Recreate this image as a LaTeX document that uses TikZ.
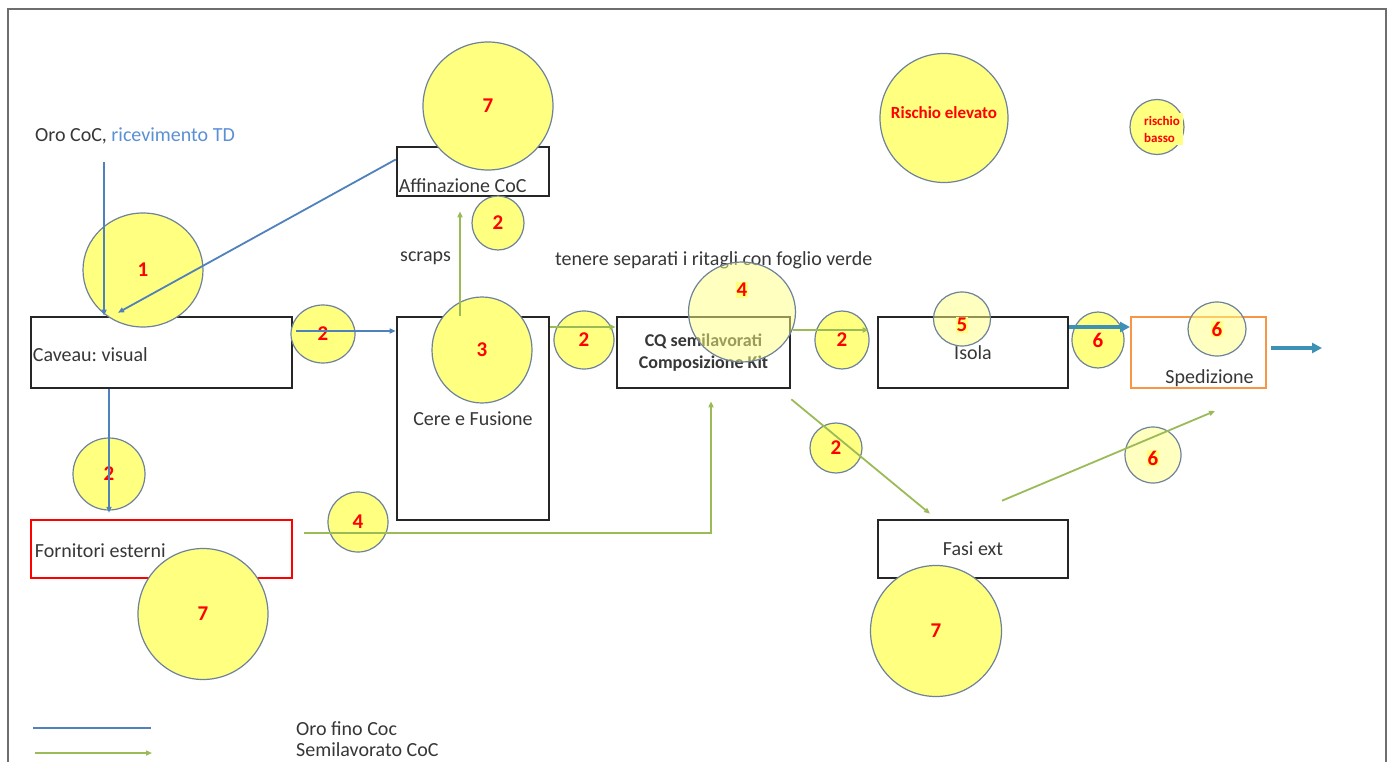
\documentclass[tikz,border=0pt]{standalone}
\usepackage{fontspec}
\setmainfont{Carlito}
\usetikzlibrary{shapes.geometric,arrows.meta,calc}
\definecolor{circyel}{RGB}{255,255,128}
\definecolor{circedge}{RGB}{110,130,155}
\definecolor{oroblue}{RGB}{79,129,189}
\definecolor{semigreen}{RGB}{155,187,89}
\definecolor{tealc}{RGB}{60,145,180}
\definecolor{boxorange}{RGB}{247,150,70}
\definecolor{txtgray}{RGB}{55,55,55}
\definecolor{framegray}{RGB}{110,110,110}
\definecolor{ricblue}{RGB}{91,143,214}
\frenchspacing
\begin{document}
\begin{tikzpicture}[x=1pt,y=-1pt,
  font=\fontsize{20}{24}\selectfont, text=txtgray,
  procbox/.style={draw=black!85, line width=2.6, inner sep=3pt},
  risk/.style={ellipse, draw=circedge, fill=circyel, line width=1.2, inner sep=0pt,
    text=red, font=\bfseries\fontsize{21}{22}\selectfont},
  risklight/.style={risk, fill opacity=0.5, text opacity=1},
  numlbl/.style={text=red, font=\bfseries\fontsize{21}{22}\selectfont, fill=circyel, inner sep=1pt},
  plain/.style={inner sep=0pt},
  oroline/.style={draw=oroblue, line width=1.8, -{Triangle[length=6,width=5]}},
  semiline/.style={draw=semigreen, line width=1.8, -{Triangle[length=6,width=5]}},
  tealarrow/.style={draw=tealc, line width=3.5, -{Triangle[length=10,width=10]}}
]
\useasboundingbox (0,0) rectangle (1392,762);
\fill[white] (0,0) rectangle (1392,762);
\draw[framegray, line width=2] (8,775) -- (8,9) -- (1386,9) -- (1386,775);

% free texts
\node[plain, anchor=west] (orolab) at (35,136) {Oro CoC, \textcolor{ricblue}{ricevimento TD}};
\node[plain, anchor=west] (scraps) at (400,258) {scraps};
\node[plain, anchor=west] (tenere) at (555,260) {tenere separati i ritagli con foglio verde};

% boxes
\node[procbox, minimum width=261, minimum height=71,
  label={[anchor=west, inner sep=3pt, yshift=-2]west:Caveau: visual}] (cav) at (161.5,352.5) {};
\node[procbox, minimum width=152, minimum height=49,
  label={[anchor=south west, inner sep=3pt, yshift=1]south west:Affinazione CoC}] (aff) at (473,171.5) {};
\node[procbox, minimum width=152, minimum height=203] (cere) at (473,418.5) {Cere e Fusione};
\node[procbox, minimum width=173, minimum height=71, align=center,
  font=\bfseries\fontsize{18}{22}\selectfont] (cq) at (703.5,352.5) {CQ semilavorati\\Composizione Kit};
\node[procbox, minimum width=190, minimum height=71] (isola) at (973,352.5) {Isola};
\node[procbox, draw=boxorange, line width=2, minimum width=135, minimum height=71,
  label={[anchor=south, inner sep=2pt, xshift=11]south:Spedizione}] (sped) at (1198.5,352.5) {};
\node[procbox, draw=red, line width=2.5, minimum width=261, minimum height=58,
  label={[anchor=west, inner sep=5pt, yshift=-2]west:Fornitori esterni}] (forn) at (161.5,549) {};
\node[procbox, minimum width=190, minimum height=58] (fasi) at (973,549) {Fasi ext};

% risk circles
\node[risk, minimum width=130, minimum height=128] (r7aff) at (488,106) {7};
\node[risk, minimum width=120, minimum height=114] (r1) at (143,270) {1};
\node[risk, minimum width=52, minimum height=54] (r2aff) at (498,223) {2};
\node[risk, minimum width=64, minimum height=58] (r2cav) at (323,334) {2};
\node[risk, minimum width=100, minimum height=106] (r3) at (482,350) {3};
\node[risk, minimum width=60, minimum height=58] (r2cere) at (584,340) {2};
\node[risklight, minimum width=107, minimum height=100,
  label={[numlbl, yshift=22]center:4}] (r4cq) at (742,312) {};
\node[risk, minimum width=54, minimum height=58] (r2cq) at (842,340) {2};
\node[risklight, minimum width=57, minimum height=54,
  label={[numlbl, yshift=-6]center:5}] (r5) at (962,319) {};
\node[risk, minimum width=52, minimum height=56] (r6is) at (1098,340) {6};
\node[risklight, minimum width=58, minimum height=54,
  label={[numlbl]center:6}] (r6sp) at (1217,329) {};
\node[risk, minimum width=52, minimum height=50] (r2diag) at (836,448) {2};
\node[risklight, minimum width=56, minimum height=56,
  label={[numlbl, yshift=-3]center:6}] (r6diag) at (1153,455) {};
\node[risk, minimum width=72, minimum height=72] (r2forn) at (109,474) {2};
\node[risk, minimum width=60, minimum height=60] (r4forn) at (358,522) {4};
\node[risk, minimum width=130, minimum height=131] (r7forn) at (203,614) {7};
\node[risk, minimum width=131, minimum height=131] (r7fasi) at (936,631) {7};
\node[risk, minimum width=128, minimum height=129,
  label={[text=red, font=\bfseries\fontsize{17}{20}\selectfont, yshift=5]center:Rischio elevato}] (hi) at (944,118) {};
\node[risk, minimum width=54, minimum height=55] (lo) at (1157,127) {};
\node[fill=circyel, inner sep=3pt, align=left, text=red,
  font=\bfseries\fontsize{13}{17}\selectfont] (lotext) at (1162,129) {rischio\\basso};

% connectors
\coordinate (oro) at (104,162);
\draw[oroline] (oro) -- (oro |- cav.north);
\draw[oroline] ([yshift=12]aff.west) -- ([xshift=-43.5,yshift=3]cav.north);
\draw[oroline] ([xshift=3,yshift=21.5]cav.east) -- ([yshift=21.5]cav.east -| cere.west);
\draw[oroline] ([xshift=-52.5]cav.south) -- ([xshift=-52.5,yshift=6]forn.north);

\draw[semiline] ([xshift=-13]cere.north) -- ([xshift=-13,yshift=-14]aff.south);
\draw[semiline] ([yshift=25.5]cq.west -| cere.east) -- ([yshift=25.5]cq.west);
\draw[semiline] ([xshift=2,yshift=22.5]cq.east) -- ([xshift=-8,yshift=22.5]isola.west);
\draw[tealarrow] ([yshift=25.5]isola.east) -- ([yshift=25.5]sped.west);
\coordinate (out) at (1322,348);
\draw[tealarrow] ([xshift=4,yshift=4.5]sped.east) -- (out);
\draw[semiline] ([yshift=-10]cq.south east) -- ([xshift=-43,yshift=5]fasi.north);
\draw[semiline] ([xshift=29,yshift=18]fasi.north) -- ([xshift=16.5,yshift=-22]sped.south);
\draw[semiline] ([xshift=11,yshift=16]forn.east) -| ([xshift=7.5,yshift=-12]cq.south);

% legend
\coordinate (lgA1) at (33,728);
\coordinate (lgA2) at (151,728);
\coordinate (lgB1) at (35,753);
\coordinate (lgB2) at (152,753);
\draw[draw=oroblue, line width=2] (lgA1) -- (lgA2);
\draw[semiline] (lgB1) -- (lgB2);
\node[plain, anchor=west] (lgAt) at (296,729) {Oro fino Coc};
\node[plain, anchor=west] (lgBt) at (296,750) {Semilavorato CoC};
\end{tikzpicture}
\end{document}
